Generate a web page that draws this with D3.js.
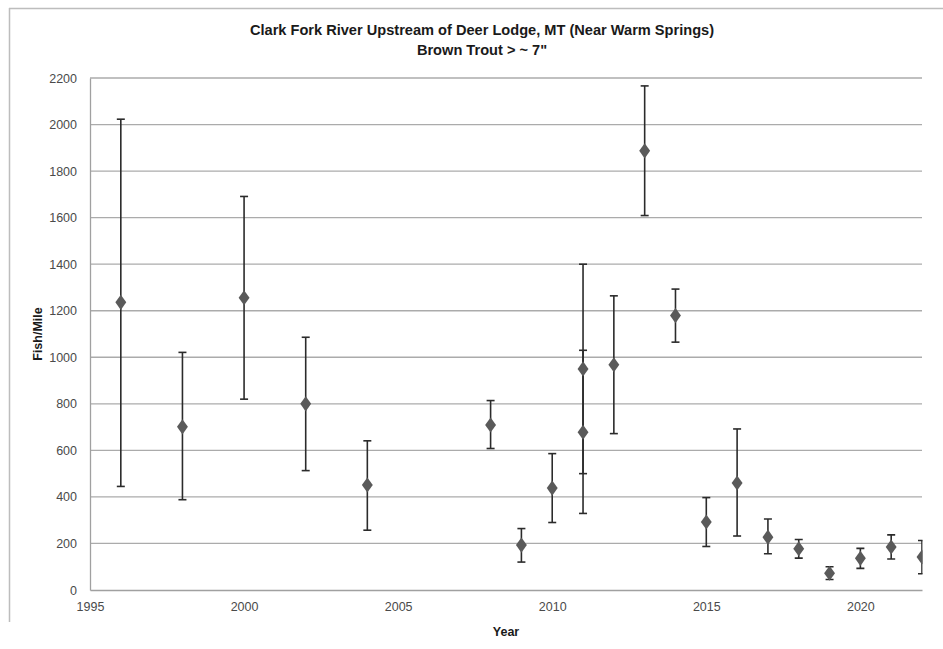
<!DOCTYPE html>
<html>
<head>
<meta charset="utf-8">
<script src="https://cdn.jsdelivr.net/npm/d3@7"></script>
<style>
  body { margin: 0; background: #fff; }
  svg { display: block; }
</style>
</head>
<body>
<svg id="chart" width="943" height="649"></svg>
<script>
// Survey estimates: year, fish per mile, and lower/upper confidence limits
const years  = [1996, 1998, 2000, 2002, 2004, 2008, 2009, 2010, 2011, 2011, 2012, 2013, 2014, 2015, 2016, 2017, 2018, 2019, 2020, 2021, 2022];
const values = [1236, 701, 1256, 800, 451, 709, 193, 438, 950, 678, 968, 1887, 1179, 292, 460, 227, 177, 72, 136, 185, 142];
const lower  = [445, 388, 820, 513, 257, 608, 120, 290, 500, 329, 672, 1609, 1065, 187, 232, 156, 137, 45, 93, 133, 70];
const upper  = [2023, 1021, 1691, 1086, 641, 814, 264, 586, 1400, 1030, 1264, 2166, 1293, 397, 692, 305, 217, 100, 179, 237, 213];

const xTicks = [1995, 2000, 2005, 2010, 2015, 2020];
const yTicks = [0, 200, 400, 600, 800, 1000, 1200, 1400, 1600, 1800, 2000, 2200];

const titleLines = ["Clark Fork River Upstream of Deer Lodge, MT (Near Warm Springs)", "Brown Trout > ~ 7\""];

const svg = d3.select("#chart");
const font = "'Liberation Sans', Arial, sans-serif";

const plot = { left: 90, right: 922, top: 78, bottom: 590 };

const x = d3.scaleLinear().domain([1995, 2022]).range([plot.left, plot.right]);
const y = d3.scaleLinear().domain([0, 2200]).range([plot.bottom, plot.top]);

// outer chart frame (top and left edges)
svg.append("line").attr("x1", 9).attr("x2", 943).attr("y1", 8.5).attr("y2", 8.5)
  .attr("stroke", "#bdbdbd").attr("stroke-width", 1.5);
svg.append("line").attr("x1", 9.5).attr("x2", 9.5).attr("y1", 8).attr("y2", 622)
  .attr("stroke", "#bdbdbd").attr("stroke-width", 1.5);

// horizontal gridlines
svg.append("g")
  .selectAll("line")
  .data(yTicks.filter(d => d > 0))
  .join("line")
  .attr("x1", plot.left).attr("x2", plot.right)
  .attr("y1", d => y(d)).attr("y2", d => y(d))
  .attr("stroke", "#ababab").attr("stroke-width", 1.3);

// y axis
const yAxis = svg.append("g")
  .attr("transform", `translate(${plot.left},0)`)
  .call(d3.axisLeft(y).tickValues(yTicks).tickSize(0).tickPadding(13).tickFormat(d3.format("d")));
yAxis.select(".domain").attr("stroke", "#a0a0a0").attr("stroke-width", 1.3);
yAxis.selectAll("text").attr("font-family", font).attr("font-size", 12.5).attr("fill", "#4a4a4a");

// x axis
const xAxis = svg.append("g")
  .attr("transform", `translate(0,${plot.bottom})`)
  .call(d3.axisBottom(x).tickValues(xTicks).tickSize(0).tickPadding(12).tickFormat(d3.format("d")));
xAxis.select(".domain").attr("stroke", "#a0a0a0").attr("stroke-width", 1.3);
xAxis.selectAll("text").attr("font-family", font).attr("font-size", 12.5).attr("fill", "#4a4a4a");

// clip region so bars at the right edge are trimmed like the plot area
svg.append("clipPath").attr("id", "plotClip")
  .append("rect").attr("x", plot.left).attr("y", 0)
  .attr("width", plot.right - plot.left + 0.5).attr("height", plot.bottom + 5);

const data = years.map((yr, i) => ({ yr, v: values[i], lo: lower[i], hi: upper[i] }));

const bars = svg.append("g").attr("clip-path", "url(#plotClip)");
const capW = 4;

bars.selectAll("line.stem").data(data).join("line")
  .attr("class", "stem")
  .attr("x1", d => x(d.yr)).attr("x2", d => x(d.yr))
  .attr("y1", d => y(d.lo)).attr("y2", d => y(d.hi))
  .attr("stroke", "#2b2b2b").attr("stroke-width", 1.6);

["lo", "hi"].forEach(k => {
  bars.selectAll(`line.cap-${k}`).data(data).join("line")
    .attr("class", `cap-${k}`)
    .attr("x1", d => x(d.yr) - capW).attr("x2", d => x(d.yr) + capW)
    .attr("y1", d => y(d[k])).attr("y2", d => y(d[k]))
    .attr("stroke", "#2b2b2b").attr("stroke-width", 1.6);
});

// diamond markers
const diamond = d3.symbol().type(d3.symbolDiamond).size(66);
bars.selectAll("path.pt").data(data).join("path")
  .attr("class", "pt")
  .attr("d", diamond)
  .attr("transform", d => `translate(${x(d.yr)},${y(d.v)}) scale(1.25,1)`)
  .attr("fill", "#5a5a5a");

// titles
svg.append("g").selectAll("text").data(titleLines).join("text")
  .attr("x", 482).attr("y", (d, i) => 35 + i * 20)
  .attr("text-anchor", "middle")
  .attr("font-family", font).attr("font-weight", "bold").attr("font-size", 14.6)
  .attr("fill", "#1a1a1a")
  .text(d => d);

svg.append("text")
  .attr("x", 506).attr("y", 636)
  .attr("text-anchor", "middle")
  .attr("font-family", font).attr("font-weight", "bold").attr("font-size", 12.5)
  .attr("fill", "#1a1a1a")
  .text("Year");

svg.append("text")
  .attr("transform", `translate(42,${(plot.top + plot.bottom) / 2}) rotate(-90)`)
  .attr("text-anchor", "middle")
  .attr("font-family", font).attr("font-weight", "bold").attr("font-size", 12.5)
  .attr("fill", "#1a1a1a")
  .text("Fish/Mile");
</script>
</body>
</html>
